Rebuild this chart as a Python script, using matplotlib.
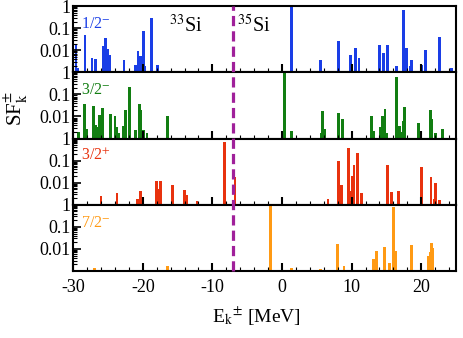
import numpy as np
import matplotlib
matplotlib.use("Agg")
import matplotlib.pyplot as plt
from matplotlib.lines import Line2D
from matplotlib.ticker import FixedLocator, MultipleLocator, LogLocator, NullFormatter
from matplotlib.transforms import blended_transform_factory

plt.rcParams['font.family'] = ['Liberation Serif', 'DejaVu Serif']
plt.rcParams['mathtext.fontset'] = 'stix'

# energies (MeV) and spectroscopic factors
e_half_m = [-29.6, -29.3, -28.3, -27.3, -26.8, -25.7, -25.4, -25.1, -24.7, -22.7,
            -21.0, -20.7, -20.3, -19.9, -19.7, -18.8, -17.9,
            1.33, 5.5, 8.15, 9.8, 10.6, 11.07, 14.0, 14.6, 15.2, 16.5, 17.5,
            17.85, 17.75, 18.6, 18.4, 20.1, 20.6, 22.6, 24.4]
sf_half_m = [0.0166, 0.0015, 0.05, 0.0045, 0.0041, 0.015, 0.037, 0.012, 0.006, 0.0037,
             0.0022, 0.009, 0.0055, 0.074, 0.002, 0.3, 0.0022,
             1.0, 0.0037, 0.027, 0.006, 0.013, 0.0045, 0.018, 0.0074, 0.017, 0.002, 0.67,
             0.013, 0.0037, 0.0037, 0.002, 0.0022, 0.01, 0.041, 0.0015]

e_3half_m = [-29.2, -28.4, -28.1, -27.1, -26.75, -26.6, -26.2, -25.8, -24.6, -24.0,
             -23.7, -23.4, -22.8, -22.5, -21.9, -21.0, -20.45, -20.3, -19.9, -19.4, -16.4,
             0.37, 1.4, 5.7, 5.86, 6.1, 8.15, 8.7, 12.8, 13.1, 14.1, 14.4, 14.8, 15.0,
             16.5, 16.9, 17.1, 17.6, 17.5, 19.6, 21.3, 21.5, 22.0, 23.0]
sf_3half_m = [0.002, 0.037, 0.0027, 0.031, 0.0041, 0.0035, 0.012, 0.024, 0.013, 0.010,
              0.0034, 0.0018, 0.0037, 0.019, 0.22, 0.0024, 0.037, 0.02, 0.0024, 0.0018, 0.011,
              0.9, 0.0021, 0.0018, 0.017, 0.0027, 0.014, 0.0074, 0.0104, 0.0022, 0.0035, 0.011,
              0.022, 0.0018, 0.62, 0.0037, 0.0019, 0.027, 0.006, 0.0049, 0.02, 0.0074, 0.0017,
              0.0028]

e_3half_p = [-26.0, -23.7, -20.8, -20.3, -18.0, -17.7, -17.4, -18.1, -15.7, -14.05,
             -13.7, -12.2, -8.3, -6.75,
             6.6, 8.15, 8.6, 9.6, 9.8, 10.15, 10.35, 10.8, 11.45, 15.2, 15.7, 16.75,
             20.0, 21.4, 21.9, 22.1, 22.6]
sf_3half_p = [0.0026, 0.0036, 0.0019, 0.0043, 0.0114, 0.0054, 0.0114, 0.003, 0.0082, 0.0049,
              0.0027, 0.0015, 0.69, 0.019,
              0.0019, 0.098, 0.0076, 0.36, 0.0044, 0.021, 0.063, 0.215, 0.0036, 0.063, 0.0039,
              0.0043, 0.05, 0.019, 0.0019, 0.0098, 0.0016]

e_7half_m = [-26.9, -16.5, -1.6, 1.4, 5.5, 8.0, 8.9, 13.1, 13.55, 14.7, 15.45, 16.0, 16.3,
             18.6, 21.05, 21.3, 21.45, 21.7]
sf_7half_m = [0.0014, 0.0017, 0.85, 0.0014, 0.0012, 0.016, 0.0017, 0.0036, 0.0082, 0.012,
              0.0023, 0.79, 0.0085, 0.015, 0.0049, 0.0074, 0.019, 0.011]

labels = [r'1/2$^{-}$', r'3/2$^{-}$', r'3/2$^{+}$', r'7/2$^{-}$']
colors = ['#1a3ee6', '#127e12', '#e8320e', '#ff9a14']
energies = [e_half_m, e_3half_m, e_3half_p, e_7half_m]
sfs = [sf_half_m, sf_3half_m, sf_3half_p, sf_7half_m]

threshold = -7.1

fig, axes = plt.subplots(4, 1, sharex=True, figsize=(4.63, 3.38), dpi=100)
fig.subplots_adjust(left=0.158, right=0.985, top=0.982, bottom=0.198, hspace=0)

for ax, e, sf, lab, c in zip(axes, energies, sfs, labels, colors):
    ax.bar(e, np.array(sf) - 1e-5, width=0.4, bottom=1e-5, color=c, edgecolor='none')
    ax.set_yscale('log')
    ax.set_ylim(1e-3, 1.0)
    ax.set_xlim(-30, 25)
    ax.yaxis.set_major_locator(FixedLocator([0.01, 0.1, 1]))
    ax.set_yticklabels(['0.01', '0.1', '1'])
    ax.yaxis.set_minor_locator(LogLocator(base=10, subs=np.arange(2, 10)))
    ax.yaxis.set_minor_formatter(NullFormatter())
    ax.xaxis.set_major_locator(MultipleLocator(10))
    ax.xaxis.set_minor_locator(MultipleLocator(2))
    ax.tick_params(axis='both', which='both', direction='in', labelsize=13,
                   top=False, right=False)
    ax.tick_params(axis='y', which='major', length=6, width=1.2, pad=2)
    ax.tick_params(axis='y', which='minor', length=3, width=0.8)
    ax.tick_params(axis='x', which='major', length=6, width=1.5)
    ax.tick_params(axis='x', which='minor', length=3, width=0.8)
    for sp in ax.spines.values():
        sp.set_linewidth(1.5)
    ax.text(0.02, 0.67, lab, transform=ax.transAxes, color=c, fontsize=11.5,
            ha='left', va='baseline')

axes[0].text(-11.4, 0.066, r'$^{33}$Si', fontsize=14.5, ha='right', va='baseline')
axes[0].text(-6.4, 0.066, r'$^{35}$Si', fontsize=14.5, ha='left', va='baseline')

axes[-1].set_xticks([-30, -20, -10, 0, 10, 20])
axes[-1].set_xticklabels(['-30', '-20', '-10', '0', '10', '20'])
axes[-1].tick_params(axis='x', labelsize=13, pad=6)
axes[-1].set_xlabel(r'E$_{\rm k}$$^{\pm}$ [MeV]', fontsize=14)
axes[-1].xaxis.set_label_coords(0.48, -0.52)

fig.text(0.035, 0.68, r'SF$_{\rm k}^{\pm}$', rotation=90, fontsize=15,
         ha='center', va='center')

trans = blended_transform_factory(axes[-1].transData, fig.transFigure)
fig.add_artist(Line2D([threshold, threshold], [0.198, 0.982], transform=trans,
                      color='#a0209a', lw=2.3, linestyle=(0, (3.2, 1.6))))

fig.savefig('out.png', dpi=100)
